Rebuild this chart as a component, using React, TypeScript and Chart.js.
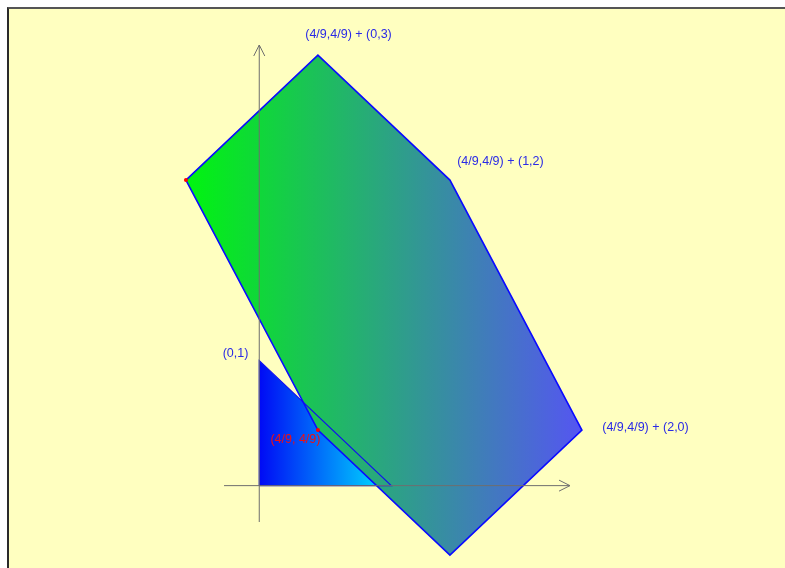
import React, { useEffect, useRef } from 'react';
import { Chart, registerables } from 'chart.js';

Chart.register(...registerables);

// Point p = (4/9, 4/9)
const pX = 4 / 9;
const pY = 4 / 9;

// Hexagon: p + offsets (closed)
const hexOffX = [-1, 0, 1, 2, 1, 0, -1];
const hexOffY = [2, 3, 2, 0, -1, 0, 2];

// Triangle (0,0),(1,0),(0,1) (closed)
const triX = [0, 1, 0, 0];
const triY = [0, 0, 1, 0];

// Marked red points
const redX = [pX - 1, pX];
const redY = [pY + 2, pY];

// Axes (data units)
const xAxisX = [-0.267, 2.354];
const xAxisY = [0, 0];
const xArrowX = [2.271, 2.354, 2.271];
const xArrowY = [0.044, 0, -0.044];
const yAxisX = [0, 0];
const yAxisY = [-0.291, 3.525];
const yArrowX = [-0.042, 0, 0.042];
const yArrowY = [3.437, 3.525, 3.437];

// Labels
const labelText = ['(4/9,4/9) + (0,3)', '(4/9,4/9) + (1,2)', '(4/9,4/9) + (2,0)', '(0,1)', '(4/9, 4/9)'];
const labelX = [0.676, 1.827, 2.926, -0.18, 0.274];
const labelY = [3.605, 2.589, 0.461, 1.053, 0.365];
const labelColor = ['#2a2ae6', '#2a2ae6', '#2a2ae6', '#2a2ae6', '#f01010'];

// View window
const X_MIN = -1.896;
const X_MAX = 3.983;
const Y_MIN = -0.659;
const Y_MAX = 3.813;

const pts = (xs: number[], ys: number[]) => xs.map((x, i) => ({ x, y: ys[i] }));

const hexXs = hexOffX.map((d) => pX + d);
const hexYs = hexOffY.map((d) => pY + d);

function hexGradient(ctx: any) {
  const chart = ctx.chart;
  const { chartArea, scales } = chart;
  if (!chartArea || !scales.x) return 'rgb(40,160,130)';
  const x0 = scales.x.getPixelForValue(Math.min(...hexXs));
  const x1 = scales.x.getPixelForValue(Math.max(...hexXs));
  const g = chart.ctx.createLinearGradient(x0, 0, x1, 0);
  g.addColorStop(0, 'rgb(0,245,15)');
  g.addColorStop(1, 'rgb(85,85,242)');
  return g;
}

function triGradient(ctx: any) {
  const chart = ctx.chart;
  const { chartArea, scales } = chart;
  if (!chartArea || !scales.x) return 'rgb(0,100,255)';
  const x0 = scales.x.getPixelForValue(Math.min(...triX));
  const x1 = scales.x.getPixelForValue(Math.max(...triX));
  const g = chart.ctx.createLinearGradient(x0, 0, x1, 0);
  g.addColorStop(0, 'rgb(0,10,245)');
  g.addColorStop(1, 'rgb(0,232,255)');
  return g;
}

const labelPlugin = {
  id: 'labels',
  afterDatasetsDraw(chart: any) {
    const { ctx, scales } = chart;
    ctx.save();
    ctx.font = '12.5px "Liberation Sans", Arial, sans-serif';
    ctx.textAlign = 'center';
    ctx.textBaseline = 'middle';
    labelText.forEach((t, i) => {
      ctx.fillStyle = labelColor[i];
      ctx.fillText(t, scales.x.getPixelForValue(labelX[i]), scales.y.getPixelForValue(labelY[i]));
    });
    ctx.restore();
  },
};

export default function App() {
  const ref = useRef<HTMLCanvasElement | null>(null);
  useEffect(() => {
    if (!ref.current) return;
    const line = (data: any, color: string, order: number, width = 1) => ({
      data,
      showLine: true,
      fill: false,
      borderColor: color,
      borderWidth: width,
      pointRadius: 0,
      tension: 0,
      order,
    });
    const chart = new Chart(ref.current, {
      type: 'scatter',
      data: {
        datasets: [
          {
            data: pts(triX, triY),
            showLine: true,
            fill: 'shape',
            backgroundColor: triGradient,
            borderColor: 'rgba(0,0,255,0)',
            borderWidth: 0,
            pointRadius: 0,
            tension: 0,
            order: 10,
          } as any,
          {
            data: pts(hexXs, hexYs),
            showLine: true,
            fill: 'shape',
            backgroundColor: hexGradient,
            borderColor: '#0a0aff',
            borderWidth: 1.6,
            pointRadius: 0,
            tension: 0,
            order: 9,
          } as any,
          line(pts(triX, triY), '#1010f0', 8, 1.2),
          line(pts(xAxisX, xAxisY), '#6e6e6e', 5),
          line(pts(xArrowX, xArrowY), '#6e6e6e', 5),
          line(pts(yAxisX, yAxisY), '#6e6e6e', 5),
          line(pts(yArrowX, yArrowY), '#6e6e6e', 5),
          {
            data: pts(redX, redY),
            showLine: false,
            pointRadius: 2,
            pointBackgroundColor: '#ff0000',
            pointBorderColor: '#ff0000',
            pointBorderWidth: 0,
            order: 1,
          } as any,
        ],
      },
      options: {
        animation: false,
        responsive: false,
        events: [],
        layout: { padding: 0, autoPadding: false } as any,
        plugins: { legend: { display: false }, tooltip: { enabled: false } },
        scales: {
          x: { type: 'linear', min: X_MIN, max: X_MAX, display: false },
          y: { type: 'linear', min: Y_MIN, max: Y_MAX, display: false },
        },
      },
      plugins: [labelPlugin],
    });
    return () => chart.destroy();
  }, []);

  return (
    <div
      style={{
        position: 'absolute',
        left: 7,
        top: 7,
        width: 778,
        height: 561,
        boxSizing: 'border-box',
        borderLeft: '2px solid #2a2a2a',
        borderTop: '2px solid #555',
        background: '#ffffc0',
        overflow: 'hidden',
      }}
    >
      <canvas ref={ref} width={776} height={559} style={{ display: 'block' }} />
    </div>
  );
}
